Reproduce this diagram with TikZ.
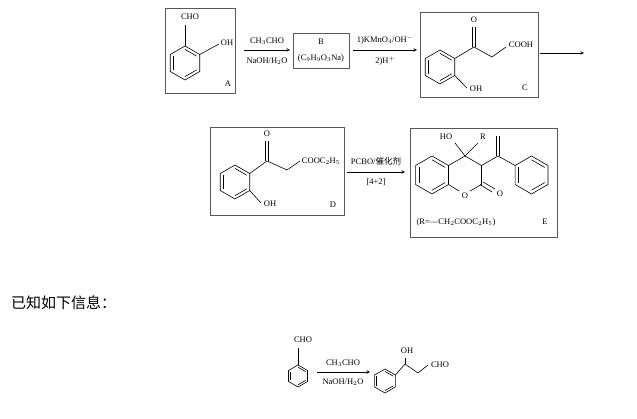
\documentclass[tikz,border=0pt]{standalone}
\usepackage{fontspec}
\setmainfont{Liberation Serif}
\newfontfamily\cjk{Noto Sans CJK SC}
\tikzset{
  bond/.style={line width=0.6pt},
  frame/.style={draw, line width=0.8pt, gray!70!black},
  rxn/.style={line width=0.6pt, -stealth},
  lbl/.style={font=\fontsize{8.5}{9}\selectfont, inner sep=0.5pt},
}
% benzene ring: centre x, centre y, radius
\newcommand\benz[3]{%
  \draw[bond] (#1,#2) ++(90:#3) -- ++(210:#3) -- ++(270:#3) -- ++(330:#3)
    -- ++(30:#3) -- ++(90:#3) -- cycle;
  \foreach \a in {150,270,30}
    \draw[bond] ($(#1,#2)+(\a:0.8*#3)$) -- ($(#1,#2)+(\a+60:0.8*#3)$);}
\usetikzlibrary{calc}
\begin{document}
\begin{tikzpicture}[x=1pt,y=-1pt]
\useasboundingbox (0,0) rectangle (637,419);
% A
\draw[frame] (165,8) rectangle (235,93);
\benz{185}{63}{17}
\draw[bond] (185,46) -- (185,25);
\node[lbl] (cho) at (190,17) {CHO};
\draw[bond] (199.7,54.5) -- (219,44);
\node[lbl] (oha) at (227,43) {OH};
\node[lbl] (la) at (228,84) {A};
% arrow 1
\coordinate (s1) at (244,50); \coordinate (e1) at (290,50);
\draw[rxn] (s1) -- (e1);
\node[lbl] at (267,41) {CH$_3$CHO};
\node[lbl] at (267,61) {NaOH/H$_2$O};
% B
\draw[frame] (293,33) rectangle (349,68);
\node[lbl] (lb) at (321,42) {B};
\node[lbl] at (321,58) {(C$_9$H$_9$O$_3$Na)};
% arrow 2
\coordinate (s2) at (353,50); \coordinate (e2) at (417,50);
\draw[rxn] (s2) -- (e2);
\node[lbl] at (385,40) {1)KMnO$_4$/OH$^-$};
\node[lbl] at (385,61) {2)H$^+$};
% C
\draw[frame] (420,12) rectangle (538,97);
\benz{440}{67}{17}
\draw[bond] (454.7,58.5) -- (474,47) -- (492,57) -- (506,47);
\draw[bond] (472.5,47) -- (472.5,27) (475.5,47) -- (475.5,27);
\node[lbl] at (474,20) {O};
\node[lbl] at (521,45) {COOH};
\draw[bond] (454.7,75.5) -- (467,88);
\node[lbl] at (476,89) {OH};
\node[lbl] at (525,88) {C};
\coordinate (s3) at (540,53); \coordinate (e3) at (584,53);
\draw[rxn] (s3) -- (e3);
% D
\draw[frame] (210,127) rectangle (344,215);
\benz{235}{182}{17}
\draw[bond] (249.7,173.5) -- (267,161) -- (287,170) -- (300,161);
\draw[bond] (265.5,161) -- (265.5,141) (268.5,161) -- (268.5,141);
\node[lbl] at (267,134) {O};
\node[lbl] at (321,161) {COOC$_2$H$_5$};
\draw[bond] (249.7,190.5) -- (261,203);
\node[lbl] at (270,204) {OH};
\node[lbl] at (333,205) {D};
% arrow 4
\coordinate (s4) at (347,172); \coordinate (e4) at (405,172);
\draw[rxn] (s4) -- (e4);
\node[lbl] at (376,161) {PCBO/{\cjk 催化剂}};
\node[lbl] at (376,182) {[4+2]};
% E
\draw[frame] (410,128) rectangle (557,237);
\benz{432}{175}{19}
\draw[bond] (448.5,165.5) -- (465,156) -- (481.5,165.5) -- (481.5,184.5) -- (470,191);
\draw[bond] (448.5,184.5) -- (459,191);
\node[lbl] at (465,196) {O};
\draw[bond] (480,184.5) -- (492,192) (483,182) -- (495,189);
\node[lbl] at (500,194) {O};
\draw[bond] (465,156) -- (455,143) (465,156) -- (478,143);
\node[lbl] at (446,137) {HO};
\node[lbl] at (483,137) {R};
\draw[bond] (481.5,165.5) -- (498,156) -- (515,165.5);
\draw[bond] (496.5,156) -- (496.5,136) (499.5,156) -- (499.5,136);
\benz{531.5}{175}{19}
\node[lbl] at (456,222) {(R=---CH$_2$COOC$_2$H$_5$)};
\node[lbl] at (545,222) {E};
% info
\node[font=\cjk\fontsize{15}{15}\selectfont, anchor=west, inner sep=0pt] (info) at (11,303) {已知如下信息：};
% bottom
\benz{298}{376}{11}
\draw[bond] (298,365) -- (298,348);
\node[lbl] at (303,340) {CHO};
\coordinate (s5) at (317,372); \coordinate (e5) at (370,372);
\draw[rxn] (s5) -- (e5);
\node[lbl] at (343,363) {CH$_3$CHO};
\node[lbl] at (343,382) {NaOH/H$_2$O};
\benz{385}{381}{12}
\draw[bond] (395.4,375) -- (405,364) -- (418,373) -- (428,365);
\draw[bond] (405,364) -- (405,358);
\node[lbl] at (407,351) {OH};
\node[lbl] at (440,365) {CHO};
\end{tikzpicture}
\end{document}
